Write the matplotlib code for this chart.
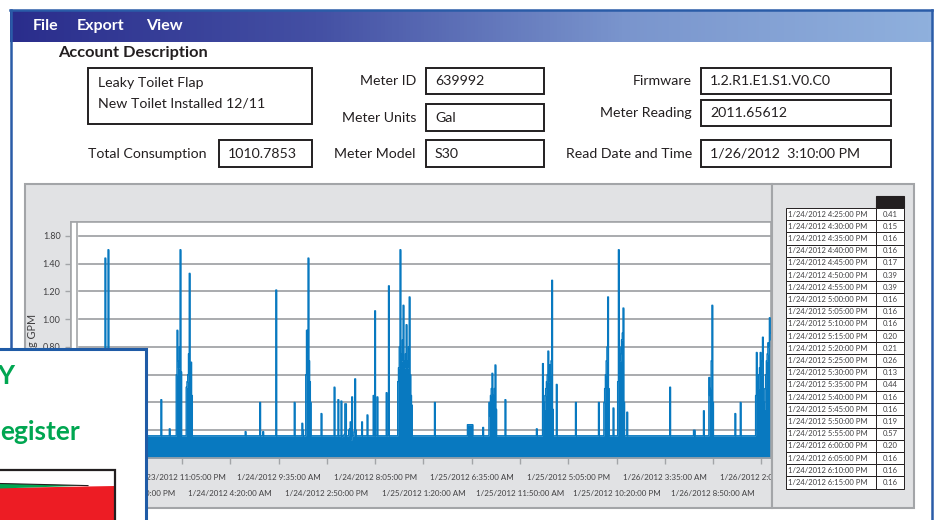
import datetime as dt
import numpy as np
import pandas as pd
import matplotlib
matplotlib.use("Agg")
import matplotlib.pyplot as plt
import matplotlib.dates as mdates
from matplotlib.patches import Rectangle, Polygon
from matplotlib.colors import LinearSegmentedColormap

plt.rcParams['font.family'] = ['Lato', 'DejaVu Sans']

W, H = 938, 520

# ---- screen values ----
menu_items = ["File", "Export", "View"]
menu_x = [33, 77, 146]
description_lines = ["Leaky Toilet Flap", "New Toilet Installed 12/11"]
total_consumption = "1010.7853"
meter_labels = ["Meter ID", "Meter Units", "Meter Model"]
meter_values = ["639992", "Gal", "S30"]
firmware_labels = ["Firmware", "Meter Reading", "Read Date and Time"]
firmware_values = ["1.2.R1.E1.S1.V0.C0", "2011.65612", "1/26/2012  3:10:00 PM"]

first_reading = "1/23/2012 11:45 AM"
last_reading = "1/26/2012 3:10 PM"
baseline_gpm = 0.16

spike_times = [
    "1/23/2012 2:45 PM", "1/23/2012 3:05 PM", "1/23/2012 8:50 PM", "1/23/2012 9:45 PM",
    "1/23/2012 10:30 PM", "1/23/2012 10:35 PM", "1/23/2012 10:40 PM", "1/23/2012 10:45 PM",
    "1/23/2012 10:50 PM", "1/23/2012 10:55 PM", "1/23/2012 11:00 PM",
    "1/23/2012 11:35 PM", "1/23/2012 11:40 PM", "1/23/2012 11:45 PM", "1/23/2012 11:50 PM",
    "1/23/2012 11:55 PM", "1/24/2012 12:00 AM", "1/24/2012 12:05 AM", "1/24/2012 12:10 AM",
    "1/24/2012 6:00 AM", "1/24/2012 7:35 AM", "1/24/2012 7:55 AM", "1/24/2012 9:20 AM",
    "1/24/2012 11:20 AM", "1/24/2012 12:10 PM", "1/24/2012 12:15 PM",
    "1/24/2012 12:35 PM", "1/24/2012 12:40 PM", "1/24/2012 12:45 PM", "1/24/2012 12:50 PM",
    "1/24/2012 12:55 PM", "1/24/2012 1:00 PM", "1/24/2012 1:05 PM",
    "1/24/2012 2:15 PM", "1/24/2012 3:40 PM", "1/24/2012 4:05 PM",
    "1/24/2012 6:40 PM", "1/24/2012 7:15 PM", "1/24/2012 7:55 PM", "1/24/2012 8:05 PM",
    "1/24/2012 8:20 PM", "1/24/2012 9:20 PM", "1/24/2012 9:35 PM",
    "1/24/2012 10:35 PM", "1/24/2012 10:40 PM", "1/24/2012 10:45 PM", "1/24/2012 10:50 PM",
    "1/24/2012 10:55 PM", "1/24/2012 11:00 PM", "1/24/2012 11:05 PM", "1/24/2012 11:10 PM",
    "1/24/2012 11:15 PM", "1/24/2012 11:20 PM", "1/24/2012 11:25 PM", "1/24/2012 11:30 PM",
    "1/24/2012 11:35 PM", "1/24/2012 11:40 PM", "1/24/2012 11:45 PM", "1/24/2012 11:50 PM",
    "1/24/2012 11:55 PM", "1/25/2012 12:00 AM", "1/25/2012 12:05 AM",
    "1/25/2012 2:35 AM",
    "1/25/2012 6:10 AM", "1/25/2012 6:15 AM", "1/25/2012 6:20 AM", "1/25/2012 6:25 AM",
    "1/25/2012 6:30 AM", "1/25/2012 6:35 AM", "1/25/2012 6:40 AM",
    "1/25/2012 7:50 AM",
    "1/25/2012 8:30 AM", "1/25/2012 8:35 AM", "1/25/2012 8:40 AM", "1/25/2012 8:45 AM",
    "1/25/2012 8:50 AM", "1/25/2012 8:55 AM", "1/25/2012 9:00 AM", "1/25/2012 9:05 AM",
    "1/25/2012 9:10 AM", "1/25/2012 9:15 AM", "1/25/2012 10:15 AM", "1/25/2012 1:40 PM",
    "1/25/2012 2:20 PM", "1/25/2012 2:25 PM", "1/25/2012 2:30 PM", "1/25/2012 2:35 PM",
    "1/25/2012 2:40 PM", "1/25/2012 2:45 PM", "1/25/2012 2:50 PM", "1/25/2012 2:55 PM",
    "1/25/2012 3:00 PM", "1/25/2012 3:05 PM", "1/25/2012 3:10 PM", "1/25/2012 3:15 PM",
    "1/25/2012 3:20 PM", "1/25/2012 3:25 PM", "1/25/2012 3:50 PM", "1/25/2012 5:55 PM",
    "1/25/2012 8:25 PM",
    "1/25/2012 9:00 PM", "1/25/2012 9:05 PM", "1/25/2012 9:10 PM", "1/25/2012 9:15 PM",
    "1/25/2012 9:20 PM", "1/25/2012 9:25 PM", "1/25/2012 9:30 PM", "1/25/2012 10:00 PM",
    "1/25/2012 10:30 PM", "1/25/2012 10:35 PM", "1/25/2012 10:40 PM", "1/25/2012 10:45 PM",
    "1/25/2012 10:50 PM", "1/25/2012 10:55 PM", "1/25/2012 11:00 PM", "1/25/2012 11:05 PM",
    "1/25/2012 11:10 PM", "1/25/2012 11:30 PM",
    "1/26/2012 4:10 AM", "1/26/2012 6:45 AM", "1/26/2012 6:50 AM", "1/26/2012 7:50 AM",
    "1/26/2012 8:25 AM", "1/26/2012 8:30 AM", "1/26/2012 8:35 AM", "1/26/2012 8:40 AM",
    "1/26/2012 8:45 AM", "1/26/2012 8:50 AM", "1/26/2012 11:15 AM", "1/26/2012 11:50 AM",
    "1/26/2012 1:30 PM", "1/26/2012 1:35 PM", "1/26/2012 1:40 PM", "1/26/2012 1:45 PM",
    "1/26/2012 1:50 PM", "1/26/2012 1:55 PM", "1/26/2012 2:00 PM", "1/26/2012 2:05 PM",
    "1/26/2012 2:10 PM", "1/26/2012 2:15 PM", "1/26/2012 2:20 PM", "1/26/2012 2:25 PM",
    "1/26/2012 2:30 PM", "1/26/2012 2:35 PM", "1/26/2012 2:40 PM", "1/26/2012 2:45 PM",
    "1/26/2012 2:50 PM", "1/26/2012 2:55 PM", "1/26/2012 3:00 PM", "1/26/2012 3:05 PM",
    "1/26/2012 3:10 PM",
]
spike_gpm = [
    1.44, 1.50, 0.42, 0.21,
    0.60, 0.92, 0.70, 0.65,
    0.80, 1.50, 0.62,
    0.51, 0.55, 0.60, 0.75,
    1.33, 0.69, 0.69, 0.45,
    0.19, 0.40, 0.19, 1.21,
    0.40, 0.25, 0.20,
    0.60, 0.92, 0.75, 1.44,
    0.70, 0.55, 0.40,
    0.32, 0.51, 0.42,
    0.26, 0.31, 0.45, 1.06,
    0.44, 0.47, 1.24,
    0.55, 0.65, 0.80, 1.50,
    0.75, 0.70, 0.85, 1.10,
    0.70, 0.65, 0.75, 0.96,
    0.70, 0.65, 0.80, 1.16,
    0.60, 0.45, 0.38,
    0.40,
    0.24, 0.24, 0.24, 0.24,
    0.24, 0.24, 0.24,
    0.22,
    0.40, 0.30, 0.45, 0.50,
    0.61, 0.45, 0.40, 0.50,
    0.67, 0.35, 0.42, 0.21,
    0.68, 0.40, 0.35, 0.45,
    0.50, 0.55, 0.60, 0.77,
    0.55, 0.67, 0.60, 0.70,
    1.28, 0.35, 0.53, 0.40,
    0.40,
    0.40, 0.50, 0.60, 0.70,
    0.80, 1.16, 0.50, 0.36,
    0.55, 1.50, 0.80, 0.70,
    0.75, 0.85, 0.90, 1.08,
    0.40, 0.33,
    0.51, 0.20, 0.20, 0.34,
    0.58, 0.45, 0.50, 0.70,
    1.10, 0.40, 0.32, 0.40,
    0.45, 0.76, 0.55, 0.50,
    0.60, 0.65, 0.76, 0.60,
    0.70, 0.87, 0.40, 0.35,
    0.50, 0.60, 0.70, 0.75,
    0.83, 0.80, 1.01, 0.90,
    0.85,
]

table_times = [
    "1/24/2012 4:25:00 PM", "1/24/2012 4:30:00 PM", "1/24/2012 4:35:00 PM",
    "1/24/2012 4:40:00 PM", "1/24/2012 4:45:00 PM", "1/24/2012 4:50:00 PM",
    "1/24/2012 4:55:00 PM", "1/24/2012 5:00:00 PM", "1/24/2012 5:05:00 PM",
    "1/24/2012 5:10:00 PM", "1/24/2012 5:15:00 PM", "1/24/2012 5:20:00 PM",
    "1/24/2012 5:25:00 PM", "1/24/2012 5:30:00 PM", "1/24/2012 5:35:00 PM",
    "1/24/2012 5:40:00 PM", "1/24/2012 5:45:00 PM", "1/24/2012 5:50:00 PM",
    "1/24/2012 5:55:00 PM", "1/24/2012 6:00:00 PM", "1/24/2012 6:05:00 PM",
    "1/24/2012 6:10:00 PM", "1/24/2012 6:15:00 PM",
]
table_gpm = [0.41, 0.15, 0.16, 0.16, 0.17, 0.39, 0.39, 0.16, 0.16, 0.16, 0.20, 0.21,
             0.26, 0.13, 0.44, 0.16, 0.16, 0.19, 0.57, 0.20, 0.16, 0.16, 0.16]

# the lower tick labels sit under the pop-up card in the screenshot
ytick_values = [0.0, 0.2, 0.4, 0.6, 0.8, 1.0, 1.2, 1.4, 1.6]
ytick_labels = ["", "", "", "", "0.80", "1.00", "1.20", "1.40", "1.80"]

xtick_row1 = ["1/23/2012 11:05:00 PM", "1/24/2012 9:35:00 AM",
              "1/24/2012 8:05:00 PM", "1/25/2012 6:35:00 AM", "1/25/2012 5:05:00 PM",
              "1/26/2012 3:35:00 AM", "1/26/2012 2:05:00 PM"]
xtick_row2 = ["1/23/2012 5:50:00 PM", "1/24/2012 4:20:00 AM", "1/24/2012 2:50:00 PM",
              "1/25/2012 1:20:00 AM", "1/25/2012 11:50:00 AM", "1/25/2012 10:20:00 PM",
              "1/26/2012 8:50:00 AM"]

view_start = "1/23/2012 11:01 AM"
view_end = "1/26/2012 3:08 PM"


def when(s):
    f = "%m/%d/%Y %I:%M:%S %p" if s.count(":") == 2 else "%m/%d/%Y %I:%M %p"
    return dt.datetime.strptime(s, f)


series = pd.Series(baseline_gpm, index=pd.date_range(when(first_reading), when(last_reading), freq="5min"))
for t, v in zip(spike_times, spike_gpm):
    series[when(t)] = v
for t, v in zip(table_times, table_gpm):
    series[when(t)] = v

# colours
blue = '#0879c0'
gray_panel = '#e1e2e4'
gray_line = '#a3a5a8'
win_blue = '#2a5ca8'
green = '#00a651'
ink = '#231f20'


def box(x0, y0, x1, y1):
    return [x0 / W, 1 - y1 / H, (x1 - x0) / W, (y1 - y0) / H]


fig = plt.figure(figsize=(W / 100, H / 100), dpi=100)
fig.patch.set_facecolor('white')

# ---- background window ----
bg = fig.add_axes([0, 0, 1, 1], zorder=0)
bg.axis('off')
grad = LinearSegmentedColormap.from_list('bar', ['#2a2d8c', '#4450a4', '#7a95cd', '#8fb0dd'])
bg.imshow(np.linspace(0, 1, 256)[None, :], cmap=grad, aspect='auto', extent=(10, 932, 42, 10))
bg.set_xlim(0, W)
bg.set_ylim(H, 0)
bg.plot([10, 932], [10, 10], color=win_blue, lw=1.8)
bg.plot([10.5, 10.5], [10, H], color=win_blue, lw=1.8)
bg.plot([932, 932], [10, H], color=win_blue, lw=1.8)

for name, x in zip(menu_items, menu_x):
    bg.text(x, 26, name, color='white', fontsize=11.5, weight='bold', va='center')

bg.text(58, 53, "Account Description", fontsize=11.8, weight='bold', va='center', color=ink)

fs = 10.2

def field(x0, y0, x1, y1, value):
    bg.add_patch(Rectangle((x0, y0), x1 - x0, y1 - y0, fc='white', ec=ink, lw=1.4))
    if value:
        bg.text(x0 + 9, (y0 + y1) / 2, value, fontsize=fs, va='center', color=ink)

field(88, 68, 312, 124, None)
bg.text(98, 83, description_lines[0], fontsize=fs, va='center', color=ink)
bg.text(98, 103, description_lines[1], fontsize=fs, va='center', color=ink)
bg.text(206, 154, "Total Consumption", fontsize=fs, va='center', ha='right', color=ink)
field(219, 140, 312, 167, total_consumption)

meter_rows = [(68, 94), (104, 131), (140, 167)]
for lab, val, (y0, y1) in zip(meter_labels, meter_values, meter_rows):
    bg.text(416, (y0 + y1) / 2, lab, fontsize=fs, va='center', ha='right', color=ink)
    field(426, y0, 544, y1, val)

firm_rows = [(68, 94), (100, 126), (140, 167)]
for lab, val, (y0, y1) in zip(firmware_labels, firmware_values, firm_rows):
    bg.text(692, (y0 + y1) / 2, lab, fontsize=fs, va='center', ha='right', color=ink)
    field(701, y0, 891, y1, val)

# chart panel
bg.add_patch(Rectangle((25, 184), 747, 324, fc=gray_panel, ec=gray_line, lw=1.5))
bg.add_patch(Rectangle((71, 222), 700, 236, fc='white', ec=gray_line, lw=1.2))
bg.text(33, 337, "Avg GPM", rotation=90, fontsize=7.8, va='center', ha='center', color='#414042')

# ---- chart ----
ax = fig.add_axes(box(71, 222, 771, 458), zorder=1)
ax.set_facecolor('white')
ax.fill_between(series.index, series.values, 0, step='mid', color=blue, lw=0, zorder=2)
ax.plot(series.index, series.values, drawstyle='steps-mid', color=blue, lw=1.0, zorder=3)
ax.set_xlim(when(view_start), when(view_end))
ax.set_ylim(0, 1.70)
ax.axvspan(when(view_start), when("1/23/2012 11:40 AM"), color='white', zorder=1)
ax.axvline(when("1/23/2012 11:40 AM"), color=gray_line, lw=1.2, zorder=1.2)

ax.set_yticks(ytick_values)
ax.set_yticklabels(ytick_labels)
ax.set_axisbelow(True)
ax.yaxis.grid(True, color=gray_line, lw=1.3)
ax.tick_params(axis='y', length=4.5, width=1, color=gray_line, pad=3, labelsize=6.5, labelcolor='#414042')

ax.set_xticks([mdates.date2num(when(s)) for s in xtick_row1])
ax.set_xticklabels(xtick_row1)
ax.set_xticks([mdates.date2num(when(s)) for s in xtick_row2], minor=True)
ax.set_xticklabels(xtick_row2, minor=True)
ax.tick_params(axis='x', which='major', length=4, width=1, color=gray_line, pad=7.5,
               labelsize=5.8, labelcolor='#414042')
ax.tick_params(axis='x', which='minor', length=4, width=1, color=gray_line, pad=19,
               labelsize=5.8, labelcolor='#414042')
for sp in ax.spines.values():
    sp.set_color(gray_line)
    sp.set_linewidth(1.2)

# ---- foreground: reading table and pop-up card ----
fg = fig.add_axes([0, 0, 1, 1], zorder=2)
fg.axis('off')
fg.patch.set_visible(False)
fg.set_xlim(0, W)
fg.set_ylim(H, 0)

fg.add_patch(Rectangle((772, 184), 142, 324, fc=gray_panel, ec=gray_line, lw=1.5))
fg.add_patch(Rectangle((876, 196), 28, 12, fc=ink, ec=ink, lw=0.8))
row_h = 12.2
for i, (t, v) in enumerate(zip(table_times, table_gpm)):
    y0 = 208 + i * row_h
    fg.add_patch(Rectangle((786, y0), 90, row_h, fc='white', ec=ink, lw=0.7))
    fg.add_patch(Rectangle((876, y0), 28, row_h, fc='white', ec=ink, lw=0.7))
    fg.text(788, y0 + row_h / 2, t, fontsize=5.5, va='center', color='#414042')
    fg.text(898, y0 + row_h / 2, f"{v:.2f}", fontsize=5.5, va='center', ha='right', color='#414042')

fg.add_patch(Rectangle((-5, 349), 151, 180, fc='white', ec='#1f5ba6', lw=2.2))
fg.text(14.5, 376, "Y", ha='right', va='center', color=green, fontsize=19, weight='bold')
fg.text(0, 440, "egister", ha='left', va='baseline', color=green, fontsize=19, weight='bold')
fg.add_patch(Rectangle((-3, 470), 118, 60, fc='white', ec='none'))
fg.add_patch(Polygon([(0, 488), (115, 486), (115, 530), (0, 530)], fc='#ed1c24', ec='none'))
fg.add_patch(Polygon([(0, 483.5), (88, 485.6), (0, 488.5)], fc=green, ec='none'))
fg.plot([0, 88], [483.5, 485.6], color=ink, lw=0.8)
fg.add_patch(Rectangle((-3, 470), 118, 60, fc='none', ec=ink, lw=1.6))

fig.savefig("out.png", dpi=100)
